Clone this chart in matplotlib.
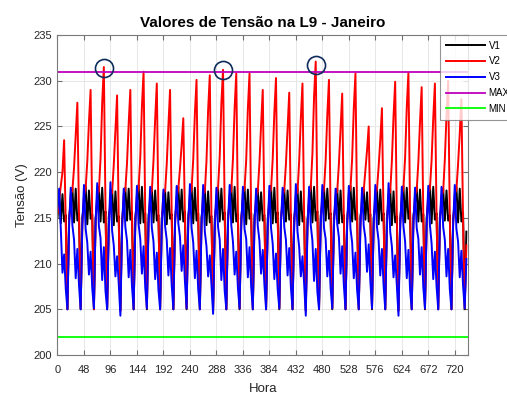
import matplotlib.pyplot as plt
import numpy as np

plt.rcParams['font.family'] = ['Liberation Sans', 'DejaVu Sans']

# amostras a cada 3 h: 0, 3, 6, 9, 12, 15, 18, 21 (31 dias de janeiro)
horas_dia = [0, 3, 6, 9, 12, 15, 18, 21]

v1_dias = [
    [215.0, 217.8, 214.4, 217.6, 214.6, 215.3, 205.0, 215.0],
    [216.5, 218.3, 214.5, 218.2, 214.7, 215.5, 205.0, 215.1],
    [216.4, 218.5, 214.3, 218.0, 214.9, 215.4, 205.0, 214.9],
    [216.7, 218.4, 214.6, 218.3, 214.5, 215.7, 205.0, 215.2],
    [216.3, 218.1, 214.2, 217.9, 214.6, 215.2, 204.9, 214.8],
    [216.6, 218.3, 214.7, 218.2, 214.8, 215.6, 205.0, 215.0],
    [216.8, 218.6, 214.4, 218.4, 214.5, 215.5, 205.0, 215.3],
    [216.5, 218.2, 214.5, 218.0, 214.7, 215.3, 205.0, 215.0],
    [216.3, 218.0, 214.3, 217.8, 214.9, 215.4, 205.0, 214.9],
    [216.6, 218.4, 214.8, 218.1, 214.6, 215.7, 205.0, 215.2],
    [216.7, 218.5, 214.4, 218.3, 214.7, 215.5, 205.0, 215.1],
    [216.4, 218.2, 214.2, 217.9, 214.5, 215.2, 204.9, 214.8],
    [216.6, 218.3, 214.6, 218.2, 214.8, 215.6, 205.0, 215.2],
    [216.5, 218.6, 214.5, 218.4, 214.6, 215.4, 205.0, 215.0],
    [216.8, 218.4, 214.3, 218.1, 214.9, 215.5, 205.0, 215.3],
    [216.3, 218.1, 214.7, 217.8, 214.7, 215.3, 205.0, 214.9],
    [216.6, 218.5, 214.4, 218.3, 214.5, 215.6, 205.0, 215.1],
    [216.4, 218.2, 214.6, 218.0, 214.8, 215.4, 205.0, 215.0],
    [216.5, 218.3, 214.2, 217.9, 214.6, 215.2, 204.9, 214.8],
    [216.7, 218.6, 214.5, 218.4, 214.7, 215.7, 205.0, 215.2],
    [216.6, 218.4, 214.7, 218.2, 214.9, 215.5, 205.0, 215.1],
    [216.4, 218.2, 214.4, 218.0, 214.5, 215.3, 205.0, 214.9],
    [216.7, 218.5, 214.6, 218.3, 214.8, 215.6, 205.0, 215.2],
    [216.3, 218.1, 214.8, 217.8, 214.6, 215.4, 205.0, 215.0],
    [216.5, 218.3, 214.3, 218.1, 214.7, 215.5, 205.0, 215.1],
    [216.4, 218.2, 214.2, 217.9, 214.5, 215.2, 204.9, 214.8],
    [216.6, 218.5, 214.5, 218.3, 214.9, 215.7, 205.0, 215.2],
    [216.5, 218.4, 214.6, 218.1, 214.6, 215.4, 205.0, 215.0],
    [216.7, 218.6, 214.4, 218.4, 214.8, 215.5, 205.0, 215.1],
    [216.3, 218.2, 214.7, 218.0, 214.7, 215.3, 205.0, 214.9],
    [216.6, 218.4, 214.5, 218.2, 214.6, 215.6, 205.0, 213.5],
]

v2_dias = [
    [215.5, 217.0, 218.5, 220.0, 223.5, 214.0, 205.0, 214.5],
    [217.6, 218.0, 220.5, 224.0, 227.6, 215.2, 205.1, 214.3],
    [217.4, 218.2, 221.2, 225.5, 229.0, 214.8, 205.0, 214.6],
    [217.5, 217.9, 221.5, 227.6, 231.5, 216.0, 205.2, 214.2],
    [217.3, 217.8, 220.8, 224.6, 228.4, 214.6, 204.8, 214.0],
    [217.6, 218.1, 221.0, 225.3, 229.0, 215.0, 205.0, 214.5],
    [217.5, 218.3, 221.6, 227.2, 231.0, 215.4, 205.1, 214.4],
    [217.4, 218.0, 221.3, 225.8, 229.7, 214.9, 205.0, 214.6],
    [217.7, 217.9, 220.9, 225.1, 229.0, 215.1, 205.0, 214.3],
    [217.3, 218.2, 220.4, 223.0, 225.9, 214.7, 205.1, 214.5],
    [217.5, 218.1, 221.4, 226.4, 230.1, 215.3, 205.0, 214.4],
    [217.6, 217.8, 221.2, 226.8, 230.6, 215.0, 204.8, 214.1],
    [217.4, 218.3, 221.7, 227.5, 231.2, 215.8, 205.0, 214.6],
    [217.5, 218.0, 221.5, 227.0, 230.8, 215.2, 205.1, 214.3],
    [217.7, 218.2, 221.3, 226.9, 230.8, 214.9, 205.0, 214.5],
    [217.3, 217.9, 221.0, 225.2, 229.0, 215.1, 205.0, 214.2],
    [217.6, 218.1, 221.4, 226.5, 230.3, 215.4, 205.1, 214.7],
    [217.4, 218.0, 220.9, 224.9, 228.7, 214.8, 205.0, 214.4],
    [217.5, 217.8, 221.2, 225.9, 229.7, 215.0, 204.8, 214.1],
    [217.6, 218.3, 222.0, 228.3, 232.1, 216.2, 205.0, 214.6],
    [217.4, 218.1, 221.3, 226.3, 230.1, 215.1, 205.1, 214.5],
    [217.5, 217.9, 220.9, 224.8, 228.6, 214.9, 205.0, 214.4],
    [217.7, 218.2, 221.5, 227.0, 230.8, 215.3, 205.0, 214.3],
    [217.3, 218.0, 220.2, 222.4, 225.0, 214.6, 205.1, 214.5],
    [217.5, 218.1, 220.6, 223.5, 227.0, 214.8, 205.0, 214.6],
    [217.6, 217.8, 221.2, 226.1, 229.9, 215.0, 204.8, 214.2],
    [217.4, 218.3, 221.6, 227.1, 230.9, 215.5, 205.0, 214.7],
    [217.5, 218.0, 221.1, 225.5, 229.3, 215.0, 205.1, 214.4],
    [217.7, 218.2, 221.3, 225.9, 229.7, 215.2, 205.0, 214.6],
    [217.4, 217.9, 221.4, 226.2, 230.0, 215.1, 205.0, 214.3],
    [217.6, 218.1, 220.9, 224.2, 228.0, 214.9, 205.1, 212.0],
]

v3_dias = [
    [216.0, 218.2, 213.8, 209.0, 211.0, 207.2, 205.0, 214.0],
    [218.3, 214.2, 212.6, 208.4, 211.6, 207.6, 205.0, 214.2],
    [218.6, 213.8, 212.3, 208.8, 211.3, 207.3, 205.1, 214.4],
    [218.8, 214.1, 212.8, 208.2, 211.8, 207.0, 205.0, 213.9],
    [218.9, 213.6, 212.0, 208.6, 210.8, 207.8, 204.3, 213.6],
    [218.2, 214.0, 212.5, 208.5, 211.5, 207.5, 205.0, 214.1],
    [218.5, 214.3, 212.7, 208.9, 211.9, 207.4, 205.1, 214.3],
    [218.4, 213.9, 212.4, 208.3, 211.2, 207.1, 205.0, 214.0],
    [218.1, 214.1, 212.6, 208.7, 211.7, 207.6, 205.0, 214.2],
    [218.5, 214.4, 212.9, 209.2, 212.0, 208.0, 205.1, 214.4],
    [218.7, 213.9, 212.3, 208.4, 211.4, 207.2, 205.0, 214.1],
    [218.6, 213.5, 211.9, 208.6, 210.9, 207.7, 204.5, 213.7],
    [218.3, 214.0, 212.6, 208.2, 211.6, 207.0, 205.0, 214.3],
    [218.6, 214.2, 212.4, 208.8, 211.3, 207.3, 205.1, 214.0],
    [218.4, 213.8, 212.7, 208.5, 211.8, 207.5, 205.0, 214.2],
    [218.2, 214.1, 212.5, 208.9, 211.5, 207.7, 205.0, 213.9],
    [218.5, 213.9, 212.2, 208.3, 211.1, 207.2, 205.1, 214.4],
    [218.3, 214.0, 212.6, 208.7, 211.7, 207.4, 205.0, 214.1],
    [218.7, 213.5, 211.8, 208.6, 210.8, 207.8, 204.3, 213.6],
    [218.4, 214.2, 212.5, 208.1, 211.6, 206.9, 205.0, 214.2],
    [218.6, 213.9, 212.7, 208.6, 211.4, 207.3, 205.1, 214.0],
    [218.2, 214.3, 212.9, 208.9, 211.9, 207.6, 205.0, 214.3],
    [218.5, 213.8, 212.3, 208.4, 211.2, 207.1, 205.0, 214.1],
    [218.3, 214.1, 212.8, 209.1, 212.1, 208.1, 205.1, 214.2],
    [218.6, 214.0, 212.5, 208.7, 211.6, 207.6, 205.0, 213.9],
    [218.8, 213.5, 211.9, 208.5, 210.9, 207.7, 204.3, 213.6],
    [218.4, 214.1, 212.4, 208.4, 211.5, 207.1, 205.0, 214.2],
    [218.3, 213.9, 212.7, 208.8, 211.8, 207.4, 205.1, 214.0],
    [218.5, 214.2, 212.2, 208.3, 211.3, 207.5, 205.0, 214.3],
    [218.4, 214.0, 212.6, 208.6, 211.6, 207.2, 205.0, 214.1],
    [218.6, 213.8, 212.4, 208.5, 211.4, 207.6, 205.1, 210.5],
]

v_max = 231
v_min = 202

# picos marcados com círculo
circ_horas = [84, 300, 468]
circ_tensao = [231.4, 231.2, 231.7]

hora = np.array([24 * d + h for d in range(len(v1_dias)) for h in horas_dia])
v1 = np.array(v1_dias).ravel()
v2 = np.array(v2_dias).ravel()
v3 = np.array(v3_dias).ravel()

fig = plt.figure(figsize=(5.07, 3.94), dpi=100)
ax = fig.add_axes([0.1134, 0.099, 0.8097, 0.812])

ax.plot(hora, v1, color='k', lw=1.4, label='V1')
ax.plot(hora, v2, color='r', lw=1.4, label='V2')
ax.plot(hora, v3, color='b', lw=1.4, label='V3')
ax.axhline(v_max, color='m', lw=1.3, label='MAX')
ax.axhline(v_min, color='#00ff00', lw=1.3, label='MIN')
ax.plot(circ_horas, circ_tensao, 'o', ms=13, mfc='none', mec='#0f2b5b', mew=1.2)

ax.set_xlim(0, 744)
ax.set_ylim(200, 235)
ax.set_xticks(np.arange(0, 721, 48))
ax.set_yticks(np.arange(200, 236, 5))
ax.grid(True, color='#e3e3e3', lw=0.6)
ax.set_axisbelow(True)
ax.tick_params(direction='in', top=True, right=True, length=3.5,
               labelsize=8, colors='#6e6e6e', labelcolor='#262626')
ax.tick_params(axis='x', pad=7)
ax.tick_params(axis='y', pad=4)
for s in ax.spines.values():
    s.set_color('#7a7a7a')
    s.set_linewidth(0.8)

ax.set_title('Valores de Tensão na L9 - Janeiro', fontsize=11, fontweight='bold', pad=6)
ax.set_ylabel('Tensão (V)', fontsize=9.5, color='#262626', labelpad=4)
ax.set_xlabel('Hora', fontsize=9.5, color='#262626', labelpad=6)

leg = ax.legend(loc='upper left', bbox_to_anchor=(0.868, 0.912), bbox_transform=fig.transFigure,
                fontsize=7, handlelength=4, handletextpad=0.4, labelspacing=0.6,
                borderpad=0.6, frameon=True, fancybox=False, borderaxespad=0)
leg.get_frame().set_edgecolor('#7a7a7a')
leg.get_frame().set_linewidth(0.8)

fig.savefig('out.png', dpi=100)
